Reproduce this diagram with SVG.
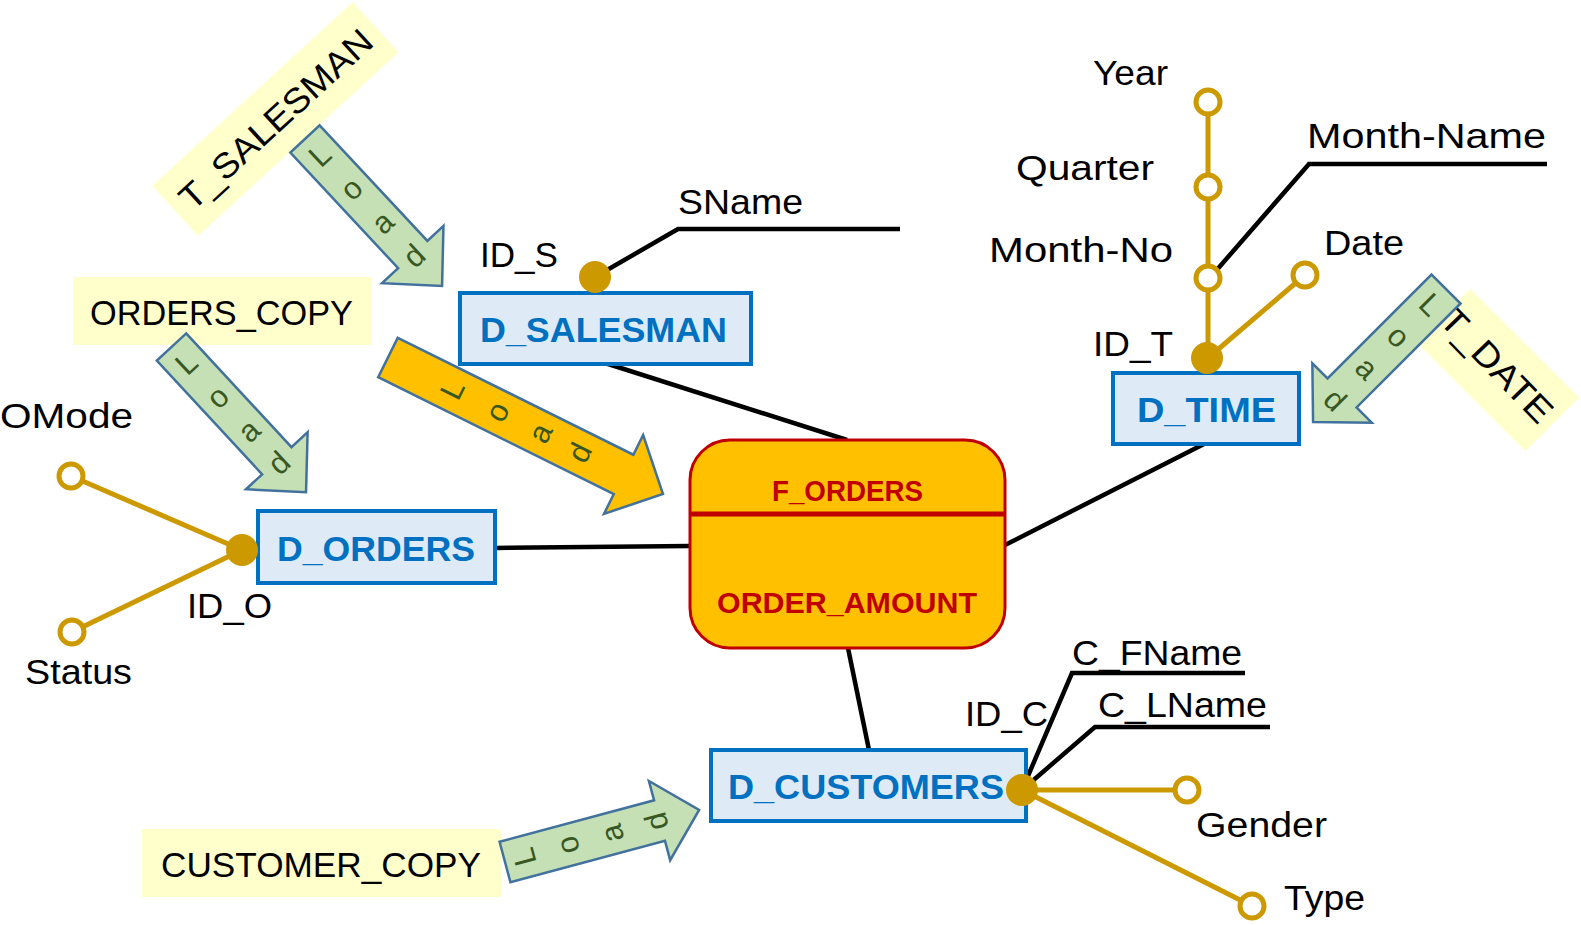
<svg xmlns="http://www.w3.org/2000/svg" width="1581" height="925" viewBox="0 0 1581 925">
<style>
  text { font-family: "Liberation Sans", Arial, sans-serif; }
  .lbl { font-size: 35px; fill: #000; }
  .src { fill: #FFFFCC; stroke: none; }
  .dim rect { fill: #DEEBF7; stroke: #0070C0; stroke-width: 4; }
  .dim text { font-size: 35px; font-weight: bold; fill: #0070C0; }
  .fact text { font-size: 29px; font-weight: bold; fill: #C00000; }
  .blk { stroke: #000; stroke-width: 4.5; fill: none; }
  .gld { stroke: #CC9900; stroke-width: 5; fill: none; }
  .key { fill: #CC9900; }
  .att { fill: #FFFFFF; stroke: #CC9900; stroke-width: 5; }
  .arr polygon { stroke: #41719C; stroke-width: 2.5; stroke-linejoin: miter; }
  .garr polygon { fill: #C5E0B4; }
  .oarr polygon { fill: #FFC000; }
  .arr text { font-size: 31px; fill: #385723; text-anchor: middle; dominant-baseline: central; }
</style>

<!-- source labels -->
<g id="T_SALESMAN">
  <rect class="src" x="-136" y="-34" width="272" height="68" transform="translate(275.5,119) rotate(-42.5)"/>
  <text class="lbl" transform="translate(275.5,119) rotate(-42.5)" text-anchor="middle" dominant-baseline="central" textLength="248" lengthAdjust="spacingAndGlyphs">T_SALESMAN</text>
</g>
<g id="ORDERS_COPY">
  <rect class="src" x="73" y="277" width="299" height="68"/>
  <text class="lbl" x="90" y="325" textLength="263" lengthAdjust="spacingAndGlyphs">ORDERS_COPY</text>
</g>
<g id="T_DATE">
  <rect class="src" x="-77" y="-38" width="154" height="76" transform="translate(1498,370) rotate(45)"/>
  <text class="lbl" transform="translate(1497,365) rotate(46)" text-anchor="middle" dominant-baseline="central" textLength="145" lengthAdjust="spacingAndGlyphs">T_DATE</text>
</g>
<g id="CUSTOMER_COPY">
  <rect class="src" x="142" y="829" width="359" height="68"/>
  <text class="lbl" x="161" y="877" textLength="320" lengthAdjust="spacingAndGlyphs">CUSTOMER_COPY</text>
</g>

<!-- load arrows -->
<g id="load_salesman" class="arr garr" transform="translate(305,139) rotate(47)">
  <polygon points="0,-20 158,-20 158,-42 201,0 158,42 158,20 0,20"/>
  <text transform="translate(22,0) rotate(-90)">L</text>
  <text transform="translate(68,0) rotate(-90)">o</text>
  <text transform="translate(114,0) rotate(-90)">a</text>
  <text transform="translate(160,0) rotate(-90)">d</text>
</g>
<g id="load_orders" class="arr garr" transform="translate(171.5,347) rotate(47.2)">
  <polygon points="0,-20 155,-20 155,-42 198,0 155,42 155,20 0,20"/>
  <text transform="translate(22,0) rotate(-90)">L</text>
  <text transform="translate(68,0) rotate(-90)">o</text>
  <text transform="translate(114,0) rotate(-90)">a</text>
  <text transform="translate(158,0) rotate(-90)">d</text>
</g>
<g id="load_fact" class="arr oarr" transform="translate(388,357.5) rotate(26.4)">
  <polygon points="0,-22 263,-22 263,-44 307,0 263,44 263,22 0,22"/>
  <text transform="translate(72,0) rotate(-90)">L</text>
  <text transform="translate(122,0) rotate(-90)">o</text>
  <text transform="translate(170,0) rotate(-90)">a</text>
  <text transform="translate(214,0) rotate(-90)">d</text>
</g>
<g id="load_time" class="arr garr" transform="translate(1446,289) rotate(135)">
  <polygon points="0,-20.5 147,-20.5 147,-42 188,0 147,42 147,20.5 0,20.5"/>
  <text transform="translate(22,0) rotate(-90)">L</text>
  <text transform="translate(67,0) rotate(-90)">o</text>
  <text transform="translate(112,0) rotate(-90)">a</text>
  <text transform="translate(157,0) rotate(-90)">d</text>
</g>
<g id="load_customers" class="arr garr" transform="translate(505,862) rotate(-15)">
  <polygon points="0,-21 160,-21 160,-41 201,0 160,41 160,21 0,21"/>
  <text transform="translate(20,0) rotate(-90)">L</text>
  <text transform="translate(65,0) rotate(-90)">o</text>
  <text transform="translate(111,0) rotate(-90)">a</text>
  <text transform="translate(157,0) rotate(-90)">d</text>
</g>

<!-- connectors -->
<g id="connectors">
  <line class="blk" x1="605" y1="363" x2="847" y2="440"/>
  <line class="blk" x1="495" y1="548" x2="690" y2="546"/>
  <line class="blk" x1="1206" y1="443" x2="1005" y2="545"/>
  <line class="blk" x1="848" y1="648" x2="869" y2="750"/>
  <polyline class="blk" points="595,277 678,229 900,229"/>
  <polyline class="blk" points="1208,280 1309,164 1547,164"/>
  <polyline class="blk" points="1022,790 1072,673 1245,673"/>
  <polyline class="blk" points="1022,790 1095,727 1270,727"/>
  <line class="gld" x1="242" y1="550" x2="71" y2="476"/>
  <line class="gld" x1="242" y1="550" x2="72" y2="632"/>
  <line class="gld" x1="1208" y1="102" x2="1208" y2="358"/>
  <line class="gld" x1="1208" y1="358" x2="1305" y2="275"/>
  <line class="gld" x1="1022" y1="790" x2="1187" y2="790"/>
  <line class="gld" x1="1022" y1="790" x2="1252" y2="906"/>
</g>

<!-- fact -->
<g id="F_ORDERS" class="fact">
  <rect x="690" y="440" width="315" height="208" rx="40" ry="40" fill="#FFC000" stroke="#C00000" stroke-width="3"/>
  <line x1="690" y1="514" x2="1005" y2="514" stroke="#C00000" stroke-width="5"/>
  <text x="772" y="501" textLength="151" lengthAdjust="spacingAndGlyphs">F_ORDERS</text>
  <text x="717" y="613" textLength="260" lengthAdjust="spacingAndGlyphs">ORDER_AMOUNT</text>
</g>

<!-- dimensions -->
<g id="D_SALESMAN" class="dim">
  <rect x="460" y="293" width="291" height="71"/>
  <text x="480" y="342" textLength="247" lengthAdjust="spacingAndGlyphs">D_SALESMAN</text>
</g>
<g id="D_ORDERS" class="dim">
  <rect x="258" y="511" width="237" height="72"/>
  <text x="277" y="561" textLength="198" lengthAdjust="spacingAndGlyphs">D_ORDERS</text>
</g>
<g id="D_TIME" class="dim">
  <rect x="1113" y="373" width="186" height="71"/>
  <text x="1137" y="422" textLength="139" lengthAdjust="spacingAndGlyphs">D_TIME</text>
</g>
<g id="D_CUSTOMERS" class="dim">
  <rect x="711" y="750" width="315" height="71"/>
  <text x="728" y="799" textLength="276" lengthAdjust="spacingAndGlyphs">D_CUSTOMERS</text>
</g>

<!-- attributes -->
<g id="ID_S">
  <circle class="key" cx="595" cy="277" r="16"/>
  <text class="lbl" x="480" y="267" textLength="78" lengthAdjust="spacingAndGlyphs">ID_S</text>
</g>
<g id="SName">
  <text class="lbl" x="678" y="214" textLength="125" lengthAdjust="spacingAndGlyphs">SName</text>
</g>
<g id="ID_O">
  <circle class="key" cx="242" cy="550" r="16"/>
  <text class="lbl" x="187" y="618" textLength="85" lengthAdjust="spacingAndGlyphs">ID_O</text>
</g>
<g id="OMode">
  <circle class="att" cx="71" cy="476" r="12"/>
  <text class="lbl" x="0" y="428" textLength="133" lengthAdjust="spacingAndGlyphs">OMode</text>
</g>
<g id="Status">
  <circle class="att" cx="72" cy="632" r="12"/>
  <text class="lbl" x="25" y="684" textLength="107" lengthAdjust="spacingAndGlyphs">Status</text>
</g>
<g id="ID_T">
  <circle class="key" cx="1207" cy="358" r="16"/>
  <text class="lbl" x="1093" y="356" textLength="80" lengthAdjust="spacingAndGlyphs">ID_T</text>
</g>
<g id="Year">
  <circle class="att" cx="1208" cy="102" r="12"/>
  <text class="lbl" x="1093" y="85" textLength="75" lengthAdjust="spacingAndGlyphs">Year</text>
</g>
<g id="Quarter">
  <circle class="att" cx="1208" cy="187" r="12"/>
  <text class="lbl" x="1016" y="180" textLength="138" lengthAdjust="spacingAndGlyphs">Quarter</text>
</g>
<g id="Month-No">
  <circle class="att" cx="1208" cy="278" r="12"/>
  <text class="lbl" x="989" y="262" textLength="184" lengthAdjust="spacingAndGlyphs">Month-No</text>
</g>
<g id="Month-Name">
  <text class="lbl" x="1307" y="148" textLength="239" lengthAdjust="spacingAndGlyphs">Month-Name</text>
</g>
<g id="Date">
  <circle class="att" cx="1305" cy="275" r="12"/>
  <text class="lbl" x="1324" y="255" textLength="80" lengthAdjust="spacingAndGlyphs">Date</text>
</g>
<g id="ID_C">
  <circle class="key" cx="1022" cy="790" r="16"/>
  <text class="lbl" x="965" y="726" textLength="83" lengthAdjust="spacingAndGlyphs">ID_C</text>
</g>
<g id="C_FName">
  <text class="lbl" x="1072" y="665" textLength="170" lengthAdjust="spacingAndGlyphs">C_FName</text>
</g>
<g id="C_LName">
  <text class="lbl" x="1098" y="717" textLength="169" lengthAdjust="spacingAndGlyphs">C_LName</text>
</g>
<g id="Gender">
  <circle class="att" cx="1187" cy="790" r="12"/>
  <text class="lbl" x="1196" y="837" textLength="131" lengthAdjust="spacingAndGlyphs">Gender</text>
</g>
<g id="Type">
  <circle class="att" cx="1252" cy="906" r="12"/>
  <text class="lbl" x="1284" y="910" textLength="81" lengthAdjust="spacingAndGlyphs">Type</text>
</g>
</svg>
